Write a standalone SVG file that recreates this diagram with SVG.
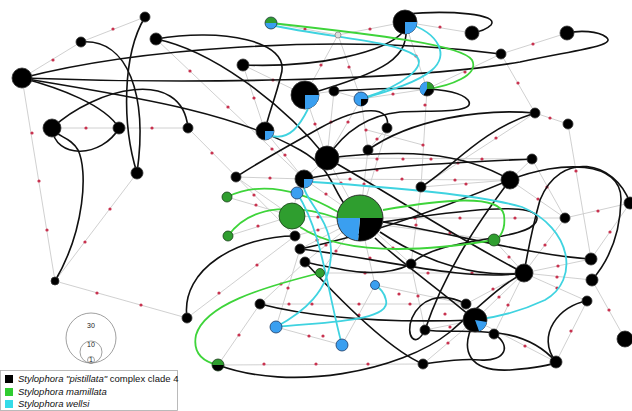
<svg xmlns="http://www.w3.org/2000/svg" width="632" height="411" viewBox="0 0 632 411">
<style>
.e{stroke:#cbcbcb;stroke-width:0.9;fill:none}
.d{fill:#c8324f}
.k{stroke:#111;stroke-width:1.6;fill:none}
.g{stroke:#3ed43a;stroke-width:1.8;fill:none}
.c{stroke:#3fd3e0;stroke-width:1.8;fill:none}
.b{fill:#000;stroke:#333;stroke-width:0.8}
.gn{fill:#2f9e2f;stroke:#173d17;stroke-width:0.8}
.bl{fill:#3a9ff0;stroke:#1d3b66;stroke-width:0.8}
.bw{fill:#3a9ff0}
.gw{fill:#2f9e2f}
.t{font-family:"Liberation Sans",Arial,sans-serif;font-size:9.5px;fill:#111}
.s{font-family:"Liberation Sans",Arial,sans-serif;font-size:7px;fill:#222;text-anchor:middle}
</style>
<rect width="632" height="411" fill="#fff"/>
<g id="network">
<path class="e" d="M22,78L81,42L145,17M22,78L55,281M52,128L188,128M137,173L55,281L187,318M156,39L304,179M188,128L295,236M187,318L295,236M271,23L338,35L405,22L472,33M338,35L305,95M338,35L361,99M243,65L305,95M243,65L265,131M501,54L567,33M501,54L427,89M501,54L535,113M405,22L427,89L421,187M535,113L421,187M361,99L427,89M305,95L334,91L361,99M305,95L327,158M334,91L327,158M361,99L327,158M361,99L368,150M387,128L368,150M265,131L304,179L327,158L532,159M304,179L510,180M383,218L565,218M320,273L524,273M260,304L466,304M218,365L423,364M276,327L342,345M218,365L260,304M327,158L360,218M304,179L360,218M292,216L360,218M295,236L360,218M300,249L360,218M305,262L360,218M320,273L360,218M375,285L360,218M411,264L360,218M368,150L360,218M387,128L360,218M227,197L292,216M228,236L292,216M297,193L292,216M236,177L304,179M236,177L292,216M260,304L305,262M276,327L300,249M342,345L375,285M375,285L466,304M411,264L425,330M524,273L591,259M524,273L592,280M524,273L587,301M524,273L466,304M524,273L475,320M524,273L494,334M475,320L423,364M475,320L556,362M475,320L425,330M592,280L625,339M587,301L556,362M568,124L591,259M510,180L565,218M532,159L565,218M565,218L630,203M630,203L591,259M565,218L524,273M383,225L494,240M421,187L411,264M510,180L532,159M494,240L524,273M421,187L510,180M535,113L568,124M367,130L423,145"/>
</g>
<g id="dots">
<circle class="d" cx="53" cy="60" r="1.6"/><circle class="d" cx="113" cy="29" r="1.6"/><circle class="d" cx="32" cy="133" r="1.6"/><circle class="d" cx="39" cy="181" r="1.6"/><circle class="d" cx="47" cy="230" r="1.6"/><circle class="d" cx="86" cy="128" r="1.6"/><circle class="d" cx="152" cy="128" r="1.6"/><circle class="d" cx="110" cy="209" r="1.6"/><circle class="d" cx="85" cy="242" r="1.6"/><circle class="d" cx="97" cy="293" r="1.6"/><circle class="d" cx="141" cy="305" r="1.6"/><circle class="d" cx="190" cy="71" r="1.6"/><circle class="d" cx="228" cy="107" r="1.6"/><circle class="d" cx="272" cy="149" r="1.6"/><circle class="d" cx="212" cy="153" r="1.6"/><circle class="d" cx="254" cy="195" r="1.6"/><circle class="d" cx="219" cy="293" r="1.6"/><circle class="d" cx="257" cy="265" r="1.6"/><circle class="d" cx="305" cy="29" r="1.6"/><circle class="d" cx="370" cy="29" r="1.6"/><circle class="d" cx="321" cy="65" r="1.6"/><circle class="d" cx="349" cy="67" r="1.6"/><circle class="d" cx="273" cy="80" r="1.6"/><circle class="d" cx="254" cy="98" r="1.6"/><circle class="d" cx="440" cy="27" r="1.6"/><circle class="d" cx="533" cy="44" r="1.6"/><circle class="d" cx="465" cy="72" r="1.6"/><circle class="d" cx="518" cy="83" r="1.6"/><circle class="d" cx="416" cy="56" r="1.6"/><circle class="d" cx="425" cy="105" r="1.6"/><circle class="d" cx="423" cy="145" r="1.6"/><circle class="d" cx="496" cy="138" r="1.6"/><circle class="d" cx="458" cy="163" r="1.6"/><circle class="d" cx="393" cy="94" r="1.6"/><circle class="d" cx="315" cy="124" r="1.6"/><circle class="d" cx="331" cy="122" r="1.6"/><circle class="d" cx="348" cy="122" r="1.6"/><circle class="d" cx="366" cy="130" r="1.6"/><circle class="d" cx="377" cy="139" r="1.6"/><circle class="d" cx="285" cy="155" r="1.6"/><circle class="d" cx="377" cy="159" r="1.6"/><circle class="d" cx="403" cy="159" r="1.6"/><circle class="d" cx="431" cy="159" r="1.6"/><circle class="d" cx="482" cy="159" r="1.6"/><circle class="d" cx="350" cy="179" r="1.6"/><circle class="d" cx="402" cy="179" r="1.6"/><circle class="d" cx="455" cy="180" r="1.6"/><circle class="d" cx="415" cy="218" r="1.6"/><circle class="d" cx="460" cy="218" r="1.6"/><circle class="d" cx="515" cy="218" r="1.6"/><circle class="d" cx="365" cy="273" r="1.6"/><circle class="d" cx="428" cy="273" r="1.6"/><circle class="d" cx="472" cy="273" r="1.6"/><circle class="d" cx="289" cy="304" r="1.6"/><circle class="d" cx="312" cy="304" r="1.6"/><circle class="d" cx="359" cy="304" r="1.6"/><circle class="d" cx="410" cy="304" r="1.6"/><circle class="d" cx="264" cy="364" r="1.6"/><circle class="d" cx="316" cy="364" r="1.6"/><circle class="d" cx="368" cy="364" r="1.6"/><circle class="d" cx="309" cy="336" r="1.6"/><circle class="d" cx="239" cy="335" r="1.6"/><circle class="d" cx="341" cy="183" r="1.6"/><circle class="d" cx="326" cy="194" r="1.6"/><circle class="d" cx="318" cy="217" r="1.6"/><circle class="d" cx="318" cy="230" r="1.6"/><circle class="d" cx="317" cy="240" r="1.6"/><circle class="d" cx="326" cy="245" r="1.6"/><circle class="d" cx="336" cy="251" r="1.6"/><circle class="d" cx="370" cy="258" r="1.6"/><circle class="d" cx="393" cy="248" r="1.6"/><circle class="d" cx="364" cy="184" r="1.6"/><circle class="d" cx="377" cy="170" r="1.6"/><circle class="d" cx="256" cy="205" r="1.6"/><circle class="d" cx="258" cy="226" r="1.6"/><circle class="d" cx="270" cy="178" r="1.6"/><circle class="d" cx="281" cy="284" r="1.6"/><circle class="d" cx="288" cy="288" r="1.6"/><circle class="d" cx="323" cy="336" r="1.6"/><circle class="d" cx="359" cy="315" r="1.6"/><circle class="d" cx="399" cy="294" r="1.6"/><circle class="d" cx="418" cy="296" r="1.6"/><circle class="d" cx="558" cy="266" r="1.6"/><circle class="d" cx="557" cy="277" r="1.6"/><circle class="d" cx="557" cy="288" r="1.6"/><circle class="d" cx="493" cy="289" r="1.6"/><circle class="d" cx="499" cy="297" r="1.6"/><circle class="d" cx="508" cy="305" r="1.6"/><circle class="d" cx="448" cy="343" r="1.6"/><circle class="d" cx="525" cy="346" r="1.6"/><circle class="d" cx="609" cy="310" r="1.6"/><circle class="d" cx="571" cy="331" r="1.6"/><circle class="d" cx="576" cy="171" r="1.6"/><circle class="d" cx="538" cy="199" r="1.6"/><circle class="d" cx="547" cy="187" r="1.6"/><circle class="d" cx="598" cy="211" r="1.6"/><circle class="d" cx="610" cy="232" r="1.6"/><circle class="d" cx="545" cy="245" r="1.6"/><circle class="d" cx="450" cy="233" r="1.6"/><circle class="d" cx="416" cy="225" r="1.6"/><circle class="d" cx="509" cy="257" r="1.6"/><circle class="d" cx="466" cy="184" r="1.6"/><circle class="d" cx="550" cy="118" r="1.6"/><circle class="d" cx="445" cy="314" r="1.6"/><circle class="d" cx="450" cy="327" r="1.6"/>
</g>
<g id="connectors">
<path class="k" d="M22,78C130,50 330,32 501,54"/>
<path class="k" d="M22,78C180,84 400,82 520,62C575,50 618,46 606,37C598,31 580,30 567,33"/>
<path class="k" d="M22,78C60,88 105,105 119,128"/>
<path class="k" d="M52,128C95,88 182,66 188,128"/>
<path class="k" d="M81,42C128,38 148,95 137,173"/>
<path class="k" d="M145,17C122,55 122,125 137,173"/>
<path class="k" d="M55,281C85,230 88,170 78,150C70,136 58,138 52,128"/>
<path class="k" d="M52,128C55,160 102,158 119,128"/>
<path class="k" d="M156,39C220,28 292,40 281,75C275,100 268,115 265,131"/>
<path class="k" d="M243,65C320,68 385,52 403,32"/>
<path class="k" d="M405,22C412,58 385,72 305,95"/>
<path class="k" d="M405,14C450,10 500,14 491,25C486,30 478,32 472,33"/>
<path class="k" d="M334,91C390,88 455,84 468,100C478,114 430,110 400,112C370,115 345,130 327,158"/>
<path class="k" d="M387,128C392,104 360,106 320,128C290,145 262,160 236,177"/>
<path class="k" d="M535,113C480,108 410,120 368,150"/>
<path class="k" d="M156,39C210,50 280,100 327,158"/>
<path class="k" d="M22,78C120,95 230,110 300,150C340,172 330,200 360,218"/>
<path class="k" d="M327,158C400,150 460,150 510,180"/>
<path class="k" d="M532,159C470,162 380,165 304,179"/>
<path class="k" d="M510,180C480,220 445,270 425,330"/>
<path class="k" d="M630,203C615,160 560,150 540,200C533,225 528,250 524,273"/>
<path class="k" d="M510,180C560,160 622,160 621,200C620,240 605,265 592,280"/>
<path class="k" d="M383,222C450,212 548,198 536,222C525,242 440,236 411,264"/>
<path class="k" d="M380,232C430,265 480,278 524,273"/>
<path class="k" d="M300,249C380,258 460,282 524,273"/>
<path class="k" d="M327,158C400,200 460,240 524,273"/>
<path class="k" d="M383,222C460,235 530,255 591,259"/>
<path class="k" d="M260,304C330,322 420,322 475,320"/>
<path class="k" d="M218,365C290,392 400,372 450,332C480,306 500,285 524,273"/>
<path class="k" d="M305,262C340,300 390,350 423,364"/>
<path class="k" d="M475,320C458,352 470,372 510,370C535,368 550,366 556,362"/>
<path class="k" d="M494,334C512,345 506,362 480,360C460,358 440,362 423,364"/>
<path class="k" d="M587,301C560,305 535,335 556,362"/>
<path class="k" d="M475,320C440,290 400,262 375,238"/>
<path class="k" d="M466,304C440,290 420,300 412,318C405,335 415,350 425,330"/>
<path class="k" d="M295,236C240,236 180,268 187,318"/>
<path class="k" d="M421,187C450,170 480,130 535,113"/>
<path class="k" d="M300,249C370,235 450,205 510,180"/>
<path class="k" d="M425,330C460,335 520,320 556,362"/>
<path class="k" d="M411,264C380,280 340,270 305,262"/>
<path class="g" d="M271,23C380,35 462,45 472,60C480,75 450,86 427,89"/>
<path class="g" d="M227,197C262,180 300,190 338,212"/>
<path class="g" d="M228,236C252,202 300,205 337,218"/>
<path class="g" d="M300,227C330,247 385,258 494,240"/>
<path class="g" d="M383,210C440,200 500,193 504,215C506,230 500,238 494,240"/>
<path class="g" d="M320,273C260,288 205,305 196,335C192,355 205,362 218,365"/>
<path class="c" d="M271,25C330,38 392,40 416,56C428,66 402,86 366,97"/>
<path class="c" d="M405,22C442,34 448,56 432,70C418,82 392,90 361,99"/>
<path class="c" d="M308,109C300,125 290,140 272,136"/>
<path class="c" d="M313,182C400,188 480,195 522,207C572,228 580,280 545,300C515,314 492,318 475,320"/>
<path class="c" d="M297,193C322,232 326,285 342,345"/>
<path class="c" d="M276,327C300,314 332,292 331,250C330,220 306,200 304,188"/>
<path class="c" d="M276,327C320,322 392,322 386,300C384,291 379,288 375,285"/>
</g>
<g id="n1"><circle class="b" cx="22" cy="78" r="10"/></g>
<g id="n2"><circle class="b" cx="81" cy="42" r="5"/></g>
<g id="n3"><circle class="b" cx="145" cy="17" r="5"/></g>
<g id="n4"><circle class="b" cx="156" cy="39" r="6"/></g>
<g id="n5"><circle class="b" cx="52" cy="128" r="9"/></g>
<g id="n6"><circle class="b" cx="119" cy="128" r="6"/></g>
<g id="n7"><circle class="b" cx="188" cy="128" r="5"/></g>
<g id="n8"><circle class="b" cx="137" cy="173" r="6"/></g>
<g id="n9"><circle class="b" cx="55" cy="281" r="4"/></g>
<g id="n10"><circle class="b" cx="187" cy="318" r="5"/></g>
<g id="n11"><path class="gw" d="M265,23A6,6 0 0 1 277,23Z"/><path class="bw" d="M265,23A6,6 0 0 0 277,23Z"/><circle cx="271" cy="23" r="6" fill="none" stroke="#1d3b3b" stroke-width="0.8"/></g>
<g id="n12"><circle cx="338" cy="35" r="3" fill="#ddd" stroke="#888" stroke-width="0.8"/></g>
<g id="n13"><circle class="b" cx="405" cy="22" r="12"/><path class="bw" d="M405,22L417,22A12,12 0 0 1 405,34Z"/></g>
<g id="n14"><circle class="b" cx="472" cy="33" r="7"/></g>
<g id="n15"><circle class="b" cx="567" cy="33" r="7"/></g>
<g id="n16"><circle class="b" cx="501" cy="54" r="5"/></g>
<g id="n17"><circle class="b" cx="243" cy="65" r="6"/></g>
<g id="n18"><circle class="b" cx="305" cy="95" r="14"/><path class="bw" d="M305,95L319,95A14,14 0 0 1 305,109Z"/></g>
<g id="n19"><circle class="b" cx="334" cy="91" r="5"/></g>
<g id="n20"><circle class="bl" cx="361" cy="99" r="7"/><path d="M361,99L368,99A7,7 0 0 1 361,106Z" fill="#000"/></g>
<g id="n21"><circle class="b" cx="427" cy="89" r="7"/><path class="gw" d="M427,89L427,82A7,7 0 0 1 434,89Z"/><path class="bw" d="M427,89L423.5,95.1A7,7 0 0 1 427,82Z"/></g>
<g id="n22"><circle class="b" cx="265" cy="131" r="9"/><path class="bw" d="M265,131L274,131A9,9 0 0 1 265,140Z"/></g>
<g id="n23"><circle class="b" cx="387" cy="128" r="5"/></g>
<g id="n24"><circle class="b" cx="327" cy="158" r="12"/></g>
<g id="n25"><circle class="b" cx="368" cy="150" r="5"/></g>
<g id="n26"><circle class="b" cx="304" cy="179" r="9"/><path class="bw" d="M304,179L313,179A9,9 0 0 1 304,188Z"/></g>
<g id="n27"><circle class="bl" cx="297" cy="193" r="6"/></g>
<g id="n28"><path class="gw" d="M337,218A23,23 0 0 1 383,218Z"/><path d="M360,218L383,218A23,23 0 0 1 358,240.9Z" fill="#000"/><path class="bw" d="M360,218L358,240.9A23,23 0 0 1 337,218Z"/><circle cx="360" cy="218" r="23" fill="none" stroke="#222" stroke-width="0.9"/></g>
<g id="n29"><circle class="gn" cx="292" cy="216" r="13"/></g>
<g id="n30"><circle class="gn" cx="227" cy="197" r="5"/></g>
<g id="n31"><circle class="gn" cx="228" cy="236" r="5"/></g>
<g id="n32"><circle class="b" cx="295" cy="236" r="5"/></g>
<g id="n33"><circle class="b" cx="300" cy="249" r="5"/></g>
<g id="n34"><circle class="b" cx="305" cy="262" r="5"/></g>
<g id="n35"><circle class="gn" cx="320" cy="273" r="4.5"/></g>
<g id="n36"><circle class="bl" cx="375" cy="285" r="4.5"/></g>
<g id="n37"><circle class="b" cx="411" cy="264" r="5"/></g>
<g id="n38"><circle class="b" cx="510" cy="180" r="9"/></g>
<g id="n39"><circle class="b" cx="532" cy="159" r="5"/></g>
<g id="n40"><circle class="b" cx="421" cy="187" r="5"/></g>
<g id="n41"><circle class="gn" cx="494" cy="240" r="6"/></g>
<g id="n42"><circle class="b" cx="565" cy="218" r="5"/></g>
<g id="n43"><circle class="b" cx="630" cy="203" r="6"/></g>
<g id="n44"><circle class="b" cx="524" cy="273" r="9"/></g>
<g id="n45"><circle class="b" cx="591" cy="259" r="6"/></g>
<g id="n46"><circle class="b" cx="592" cy="280" r="6"/></g>
<g id="n47"><circle class="b" cx="568" cy="124" r="5"/></g>
<g id="n49"><circle class="b" cx="535" cy="113" r="5"/></g>
<g id="n50"><circle class="b" cx="475" cy="320" r="12"/><path class="bw" d="M475,320L486.8,322.1A12,12 0 0 1 479.1,331.3Z"/></g>
<g id="n51"><circle class="b" cx="466" cy="304" r="5"/></g>
<g id="n52"><circle class="b" cx="425" cy="330" r="5"/></g>
<g id="n53"><circle class="b" cx="494" cy="334" r="5"/></g>
<g id="n54"><circle class="b" cx="587" cy="301" r="5"/></g>
<g id="n55"><circle class="b" cx="556" cy="362" r="6"/></g>
<g id="n56"><circle class="b" cx="625" cy="339" r="8"/></g>
<g id="n57"><circle class="b" cx="423" cy="364" r="5"/></g>
<g id="n58"><circle class="b" cx="260" cy="304" r="5"/></g>
<g id="n59"><circle class="bl" cx="276" cy="327" r="6"/></g>
<g id="n60"><circle class="bl" cx="342" cy="345" r="6"/></g>
<g id="n61"><path class="gw" d="M212,365A6,6 0 0 1 224,365Z"/><path d="M212,365A6,6 0 0 0 224,365Z" fill="#000"/><circle cx="218" cy="365" r="6" fill="none" stroke="#1a3a1a" stroke-width="0.8"/></g>
<g id="n62"><circle class="b" cx="236" cy="177" r="5"/></g>
<g id="scale">
<circle cx="91" cy="338" r="25" fill="none" stroke="#888" stroke-width="0.8"/>
<circle cx="91" cy="352" r="11" fill="none" stroke="#888" stroke-width="0.8"/>
<circle cx="91" cy="360" r="3.5" fill="none" stroke="#888" stroke-width="0.8"/>
<text class="s" x="91" y="328">30</text>
<text class="s" x="91" y="347">10</text>
<text class="s" x="91" y="362" font-size="5">1</text>
</g>
<g id="legend">
<rect x="0.5" y="370.5" width="177" height="40" fill="#fff" stroke="#aaa" stroke-width="0.8"/>
<rect x="5" y="375" width="8" height="8" fill="#000"/>
<rect x="5" y="388" width="8" height="8" fill="#30cc30"/>
<rect x="5" y="400" width="8" height="8" fill="#35dbe8"/>
<text class="t" x="18" y="382"><tspan font-style="italic">Stylophora</tspan> <tspan font-style="italic">"pistillata"</tspan> complex clade 4</text>
<text class="t" x="18" y="395" font-style="italic">Stylophora mamillata</text>
<text class="t" x="18" y="407" font-style="italic">Stylophora wellsi</text>
</g>
</svg>
